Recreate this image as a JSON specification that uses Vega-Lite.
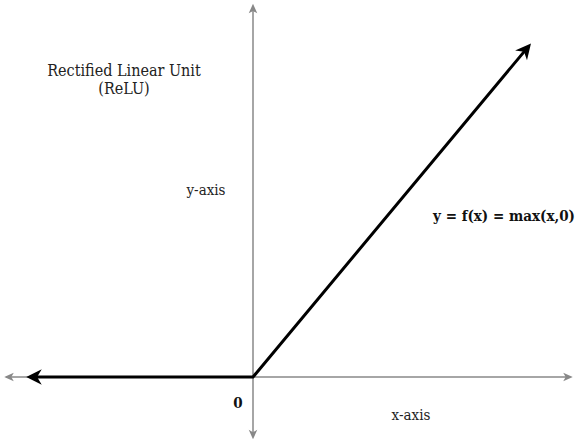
{
  "$schema": "https://vega.github.io/schema/vega-lite/v6.json",
  "width": 575,
  "height": 443,
  "autosize": {"type": "fit", "contains": "padding"},
  "padding": 0,
  "background": "white",
  "config": {"view": {"stroke": null}},
  "datasets": {
    "hax": [{"x": -2.47, "y": 0, "o": 1}, {"x": 3.17, "y": 0, "o": 2}],
    "vax": [{"x": 0, "y": -0.5, "o": 1}, {"x": 0, "y": 3.09, "o": 2}],
    "relu": [{"x": -2.18, "y": 0, "o": 1}, {"x": 0, "y": 0, "o": 2}, {"x": 2.72, "y": 2.72, "o": 3}],
    "grayHeads": [
      {"x": -2.44, "y": 0, "a": 270},
      {"x": 3.15, "y": 0, "a": 90},
      {"x": 0, "y": 3.07, "a": 0},
      {"x": 0, "y": -0.48, "a": 180}
    ],
    "blackHeads": [
      {"x": -2.19, "y": 0, "a": 270},
      {"x": 2.73, "y": 2.73, "a": 39.8}
    ],
    "title": [
      {"x": -1.29, "y": 2.508, "t": "Rectified Linear Unit"},
      {"x": -1.29, "y": 2.355, "t": "(ReLU)"}
    ],
    "labels": [
      {"x": -0.47, "y": 1.517, "t": "y-axis"},
      {"x": 1.58, "y": -0.358, "t": "x-axis"}
    ],
    "bold": [
      {"x": 2.51, "y": 1.3, "t": "y = f(x) = max(x,0)"},
      {"x": -0.15, "y": -0.258, "t": "0"}
    ]
  },
  "encoding": {
    "x": {"field": "x", "type": "quantitative", "scale": {"domain": [-2.53, 3.22], "nice": false, "zero": false}, "axis": null},
    "y": {"field": "y", "type": "quantitative", "scale": {"domain": [-0.55, 3.1417], "nice": false, "zero": false}, "axis": null}
  },
  "layer": [
    {"data": {"name": "hax"}, "mark": {"type": "line", "color": "#888888", "strokeWidth": 1.5}, "encoding": {"order": {"field": "o"}}},
    {"data": {"name": "vax"}, "mark": {"type": "line", "color": "#888888", "strokeWidth": 1.5}, "encoding": {"order": {"field": "o"}}},
    {"data": {"name": "grayHeads"}, "mark": {"type": "point", "shape": "M0,-1L0.9,1L0,0.5L-0.9,1Z", "filled": true, "color": "#888888", "opacity": 1, "size": 90}, "encoding": {"angle": {"field": "a", "type": "quantitative", "scale": null}}},
    {"data": {"name": "relu"}, "mark": {"type": "line", "color": "#000000", "strokeWidth": 3}, "encoding": {"order": {"field": "o"}}},
    {"data": {"name": "blackHeads"}, "mark": {"type": "point", "shape": "M0,-1L1,1L0,0.4L-1,1Z", "filled": true, "color": "#000000", "opacity": 1, "size": 240}, "encoding": {"angle": {"field": "a", "type": "quantitative", "scale": null}}},
    {"data": {"name": "title"}, "mark": {"type": "text", "font": "DejaVu Serif Condensed", "fontSize": 16, "color": "#222222", "align": "center", "baseline": "alphabetic"}, "encoding": {"text": {"field": "t"}}},
    {"data": {"name": "labels"}, "mark": {"type": "text", "font": "DejaVu Serif Condensed", "fontSize": 15, "color": "#222222", "align": "center", "baseline": "alphabetic"}, "encoding": {"text": {"field": "t"}}},
    {"data": {"name": "bold"}, "mark": {"type": "text", "font": "DejaVu Serif Condensed", "fontSize": 15, "fontWeight": "bold", "color": "#111111", "align": "center", "baseline": "alphabetic"}, "encoding": {"text": {"field": "t"}}}
  ]
}
